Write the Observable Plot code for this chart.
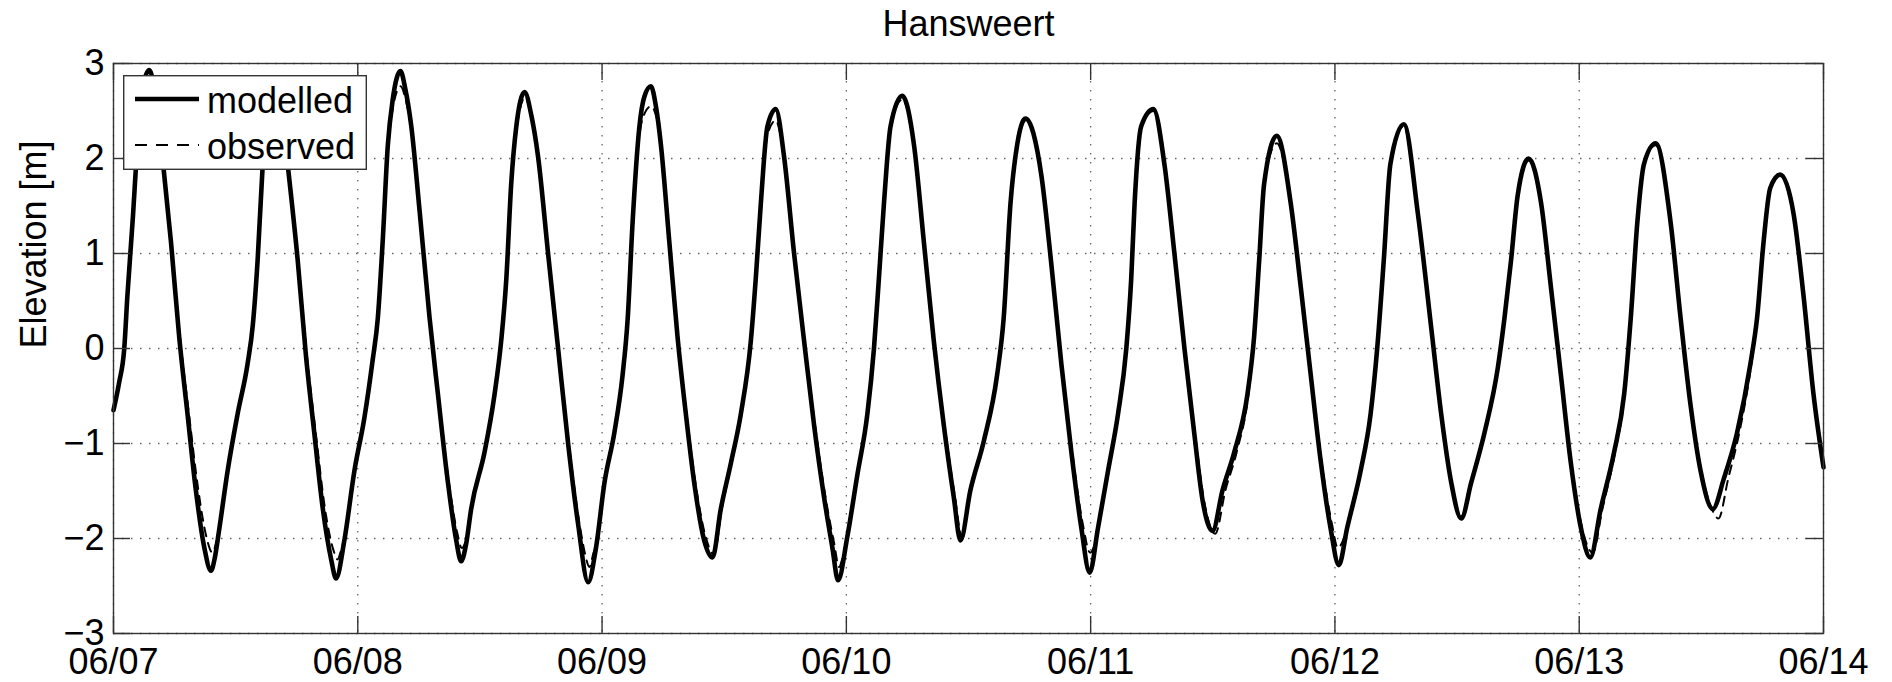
<!DOCTYPE html>
<html><head><meta charset="utf-8">
<script src="https://cdn.jsdelivr.net/npm/d3@7"></script>
<script src="https://cdn.jsdelivr.net/npm/@observablehq/plot@0.6"></script>
<style>
html,body{margin:0;padding:0;background:#fff;}
#wrap{position:relative;width:1892px;height:682px;font-family:"Liberation Sans",Arial,Helvetica,sans-serif;}
#legend{position:absolute;left:123px;top:75px;width:244px;height:95px;}
</style></head><body><div id="wrap"></div>
<script>
// days since 06/07 00:00, elevation [m]
const modelled = [
[0.000,-0.65],[0.023,-0.36],[0.044,0.00],[0.057,0.56],[0.078,1.33],[0.098,2.14],[0.120,2.75],[0.146,2.93],[0.170,2.70],[0.200,2.02],[0.235,1.13],[0.269,0.12],[0.303,-0.69],[0.337,-1.49],[0.372,-2.10],[0.399,-2.34],[0.415,-2.20],[0.433,-1.90],[0.467,-1.29],[0.508,-0.69],[0.549,-0.16],[0.570,0.24],[0.590,0.93],[0.611,1.94],[0.632,2.60],[0.658,2.85],[0.685,2.60],[0.713,1.94],[0.754,0.93],[0.788,-0.08],[0.822,-0.89],[0.857,-1.69],[0.891,-2.22],[0.911,-2.42],[0.945,-2.02],[0.986,-1.29],[1.027,-0.73],[1.061,-0.12],[1.082,0.32],[1.102,1.13],[1.123,2.14],[1.143,2.62],[1.175,2.92],[1.194,2.74],[1.219,2.34],[1.253,1.45],[1.294,0.32],[1.328,-0.48],[1.369,-1.41],[1.403,-2.02],[1.423,-2.24],[1.444,-2.05],[1.464,-1.69],[1.519,-1.09],[1.560,-0.48],[1.587,0.08],[1.608,0.73],[1.628,1.73],[1.649,2.34],[1.683,2.70],[1.710,2.46],[1.738,2.02],[1.779,1.00],[1.820,0.00],[1.861,-1.00],[1.902,-1.85],[1.943,-2.46],[1.975,-2.10],[2.010,-1.41],[2.050,-0.89],[2.084,-0.28],[2.105,0.32],[2.125,1.33],[2.153,2.34],[2.173,2.65],[2.200,2.76],[2.221,2.54],[2.241,2.14],[2.275,1.13],[2.309,0.12],[2.343,-0.69],[2.377,-1.41],[2.418,-2.02],[2.452,-2.20],[2.486,-1.69],[2.527,-1.21],[2.568,-0.69],[2.609,0.08],[2.629,0.73],[2.650,1.53],[2.677,2.34],[2.711,2.52],[2.745,2.02],[2.786,1.00],[2.827,0.08],[2.868,-0.81],[2.909,-1.57],[2.943,-2.10],[2.966,-2.44],[3.004,-1.98],[3.045,-1.33],[3.086,-0.69],[3.113,0.00],[3.133,0.73],[3.154,1.53],[3.181,2.34],[3.229,2.66],[3.277,2.14],[3.317,1.13],[3.358,0.08],[3.399,-0.81],[3.440,-1.57],[3.467,-2.02],[3.508,-1.49],[3.563,-0.97],[3.617,-0.28],[3.644,0.32],[3.672,1.53],[3.699,2.14],[3.733,2.42],[3.799,1.81],[3.839,0.89],[3.880,-0.16],[3.921,-1.09],[3.962,-1.89],[3.996,-2.36],[4.030,-1.89],[4.071,-1.29],[4.112,-0.69],[4.146,0.00],[4.166,0.73],[4.180,1.53],[4.207,2.34],[4.257,2.52],[4.302,1.94],[4.343,1.00],[4.384,0.00],[4.424,-0.89],[4.459,-1.61],[4.499,-1.92],[4.540,-1.49],[4.588,-1.09],[4.642,-0.48],[4.669,0.12],[4.690,0.93],[4.710,1.73],[4.762,2.24],[4.819,1.53],[4.860,0.65],[4.901,-0.28],[4.941,-1.17],[4.982,-1.89],[5.016,-2.28],[5.050,-1.89],[5.105,-1.29],[5.146,-0.69],[5.173,0.00],[5.200,0.93],[5.227,1.94],[5.282,2.36],[5.340,1.41],[5.395,0.20],[5.435,-0.69],[5.476,-1.41],[5.517,-1.79],[5.558,-1.41],[5.612,-0.89],[5.667,-0.20],[5.694,0.32],[5.721,0.93],[5.748,1.61],[5.793,2.00],[5.844,1.53],[5.884,0.65],[5.925,-0.28],[5.966,-1.21],[6.007,-1.89],[6.045,-2.20],[6.088,-1.69],[6.143,-1.09],[6.184,-0.48],[6.211,0.32],[6.238,1.33],[6.265,1.94],[6.313,2.16],[6.374,1.33],[6.415,0.32],[6.456,-0.60],[6.497,-1.29],[6.547,-1.69],[6.592,-1.37],[6.646,-0.89],[6.701,-0.16],[6.728,0.32],[6.755,1.13],[6.782,1.69],[6.823,1.83],[6.878,1.41],[6.918,0.56],[6.959,-0.48],[7.000,-1.25]
];
const observed = [
[0.000,-0.62],[0.023,-0.34],[0.044,0.00],[0.057,0.56],[0.078,1.33],[0.098,2.14],[0.120,2.74],[0.146,2.92],[0.170,2.70],[0.200,2.04],[0.236,1.13],[0.272,0.12],[0.309,-0.69],[0.345,-1.45],[0.380,-1.98],[0.405,-2.15],[0.420,-2.05],[0.435,-1.88],[0.467,-1.29],[0.508,-0.69],[0.549,-0.16],[0.570,0.24],[0.590,0.93],[0.611,1.94],[0.634,2.55],[0.660,2.75],[0.687,2.55],[0.714,1.94],[0.756,0.93],[0.792,-0.08],[0.828,-0.89],[0.866,-1.69],[0.900,-2.12],[0.917,-2.22],[0.932,-2.12],[0.947,-1.98],[0.986,-1.29],[1.027,-0.73],[1.061,-0.12],[1.082,0.32],[1.102,1.13],[1.123,2.10],[1.145,2.55],[1.175,2.76],[1.196,2.62],[1.219,2.30],[1.253,1.45],[1.294,0.32],[1.330,-0.48],[1.373,-1.41],[1.408,-1.95],[1.425,-2.10],[1.447,-1.98],[1.466,-1.69],[1.519,-1.09],[1.560,-0.48],[1.587,0.08],[1.608,0.73],[1.628,1.73],[1.650,2.30],[1.684,2.64],[1.711,2.44],[1.738,2.02],[1.779,1.00],[1.821,0.00],[1.864,-1.00],[1.908,-1.85],[1.932,-2.18],[1.948,-2.30],[1.965,-2.15],[1.977,-2.06],[2.012,-1.41],[2.050,-0.89],[2.084,-0.28],[2.105,0.32],[2.125,1.33],[2.153,2.25],[2.175,2.48],[2.200,2.55],[2.222,2.44],[2.243,2.12],[2.277,1.13],[2.311,0.12],[2.346,-0.69],[2.382,-1.41],[2.424,-1.98],[2.458,-2.17],[2.490,-1.69],[2.530,-1.21],[2.570,-0.69],[2.610,0.08],[2.629,0.73],[2.650,1.53],[2.677,2.25],[2.711,2.40],[2.745,2.00],[2.787,1.00],[2.829,0.08],[2.872,-0.81],[2.915,-1.57],[2.950,-2.05],[2.970,-2.30],[2.985,-2.20],[3.006,-1.98],[3.045,-1.33],[3.086,-0.69],[3.113,0.00],[3.133,0.73],[3.154,1.53],[3.181,2.32],[3.229,2.62],[3.277,2.14],[3.318,1.13],[3.359,0.08],[3.402,-0.81],[3.445,-1.57],[3.472,-1.97],[3.510,-1.49],[3.565,-0.97],[3.618,-0.28],[3.644,0.32],[3.672,1.53],[3.699,2.12],[3.735,2.40],[3.799,1.81],[3.840,0.89],[3.882,-0.16],[3.925,-1.09],[3.968,-1.85],[3.998,-2.15],[4.032,-1.89],[4.071,-1.29],[4.112,-0.69],[4.146,0.00],[4.166,0.73],[4.180,1.53],[4.207,2.32],[4.257,2.50],[4.302,1.94],[4.343,1.00],[4.385,0.00],[4.427,-0.89],[4.465,-1.61],[4.510,-1.95],[4.552,-1.49],[4.598,-1.09],[4.646,-0.48],[4.670,0.12],[4.690,0.93],[4.710,1.73],[4.762,2.16],[4.819,1.53],[4.860,0.65],[4.902,-0.28],[4.944,-1.17],[4.988,-1.85],[5.012,-2.10],[5.050,-1.89],[5.105,-1.29],[5.146,-0.69],[5.173,0.00],[5.200,0.93],[5.227,1.94],[5.282,2.34],[5.340,1.41],[5.395,0.20],[5.436,-0.69],[5.478,-1.41],[5.515,-1.77],[5.560,-1.41],[5.613,-0.89],[5.667,-0.20],[5.694,0.32],[5.721,0.93],[5.748,1.61],[5.793,1.98],[5.844,1.53],[5.884,0.65],[5.926,-0.28],[5.968,-1.21],[6.012,-1.89],[6.055,-2.15],[6.095,-1.69],[6.147,-1.09],[6.186,-0.48],[6.211,0.32],[6.238,1.33],[6.265,1.94],[6.313,2.14],[6.374,1.33],[6.415,0.32],[6.457,-0.60],[6.500,-1.29],[6.545,-1.70],[6.570,-1.79],[6.610,-1.37],[6.655,-0.89],[6.705,-0.16],[6.729,0.32],[6.755,1.13],[6.782,1.69],[6.823,1.82],[6.878,1.41],[6.918,0.56],[6.960,-0.48],[6.995,-1.20]
];
const xTickDays = [0,1,2,3,4,5,6,7];
const xTickLabels = ["06/07","06/08","06/09","06/10","06/11","06/12","06/13","06/14"];
const yTicks = [-3,-2,-1,0,1,2,3];
const yTickLabels = ["\u22123","\u22122","\u22121","0","1","2","3"];
const seriesNames = ["modelled","observed"];
const titleText = "Hansweert";
const yLabel = "Elevation [m]";

const base = Date.UTC(2000, 5, 7);
const toDate = d => new Date(base + d * 864e5);
const xTicks = xTickDays.map(toDate);
const xLabelOf = new Map(xTicks.map((t,i)=>[+t, xTickLabels[i]]));
const yLabelOf = new Map(yTicks.map((v,i)=>[v, yTickLabels[i]]));
const rows = (arr) => arr.map(([d,v]) => ({t: toDate(d), v}));

const W=1892, H=682, mL=113, mR=69, mT=63, mB=49;
const pw=W-mL-mR, ph=H-mT-mB, tl=17;
const FONT = '"Liberation Sans", Arial, Helvetica, sans-serif';
const axisC = "#333";

const plot = Plot.plot({
  width: W, height: H,
  marginLeft: mL, marginRight: mR, marginTop: mT, marginBottom: mB,
  style: {fontFamily: FONT, fontSize: "36px", color: "#000", background: "#fff", overflow: "visible"},
  x: {type: "utc", domain: [toDate(0), toDate(7)]},
  y: {domain: [-3, 3]},
  marks: [
    Plot.gridX(xTicks, {stroke: "#666", strokeOpacity: 1, strokeWidth: 1.3, strokeDasharray: "1.5,7.5"}),
    Plot.gridY(yTicks, {stroke: "#666", strokeOpacity: 1, strokeWidth: 1.3, strokeDasharray: "1.5,7.5"}),
    Plot.line(rows(modelled), {x: "t", y: "v", stroke: "#000", strokeWidth: 4.6, curve: "monotone-x"}),
    Plot.line(rows(observed), {x: "t", y: "v", stroke: "#000", strokeWidth: 2, strokeDasharray: "9,7", curve: "monotone-x"}),
    Plot.frame({stroke: axisC, strokeWidth: 1.4}),
    Plot.tickX(xTicks, {x: d => d, insetTop: ph - tl, stroke: axisC, strokeWidth: 1.4}),
    Plot.tickX(xTicks, {x: d => d, insetBottom: ph - tl, stroke: axisC, strokeWidth: 1.4}),
    Plot.tickY(yTicks, {y: d => d, insetRight: pw - tl, stroke: axisC, strokeWidth: 1.4}),
    Plot.tickY(yTicks, {y: d => d, insetLeft: pw - tl, stroke: axisC, strokeWidth: 1.4}),
    Plot.axisX(xTicks, {tickSize: 0, tickPadding: 15, tickFormat: d => xLabelOf.get(+d), fontSize: 36, label: null}),
    Plot.axisY(yTicks, {tickSize: 0, tickPadding: 9, tickFormat: d => yLabelOf.get(d), fontSize: 36, label: null}),
    Plot.text([titleText], {frameAnchor: "top", dy: -28, lineAnchor: "bottom", fontSize: 36, fill: "#000"}),
    Plot.text([yLabel], {frameAnchor: "left", rotate: -90, dx: -68, lineAnchor: "bottom", fontSize: 36, fill: "#000"})
  ]
});
const wrap = document.getElementById("wrap");
wrap.appendChild(plot);

// legend box
const lg = document.createElement("div");
lg.id = "legend";
const s = d3.select(lg).append("svg").attr("width", 244).attr("height", 95).style("display","block");
s.append("rect").attr("x",0.7).attr("y",0.7).attr("width",242.6).attr("height",93.6).attr("fill","#fff").attr("stroke",axisC).attr("stroke-width",1.4);
const styles = [{w:4.6, dash:null},{w:2, dash:"12,9"}];
seriesNames.forEach((name,i) => {
  const cy = 24 + i*46;
  s.append("line").attr("x1",12).attr("x2",76).attr("y1",cy).attr("y2",cy)
    .attr("stroke","#000").attr("stroke-width",styles[i].w).attr("stroke-dasharray",styles[i].dash);
  s.append("text").attr("x",84).attr("y",cy+14).attr("font-size",36).attr("font-family",FONT).attr("fill","#000").text(name);
});
wrap.appendChild(lg);
</script></body></html>
